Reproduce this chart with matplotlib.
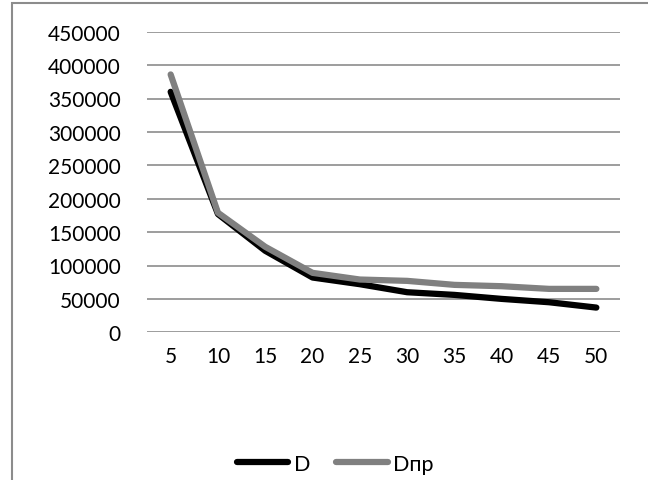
import matplotlib
matplotlib.use("Agg")
import matplotlib.pyplot as plt
from matplotlib.patches import Rectangle

plt.rcParams['font.family'] = ['Lato', 'DejaVu Sans']

categories = ["5", "10", "15", "20", "25", "30", "35", "40", "45", "50"]
D = [360000, 177000, 122000, 82000, 72000, 60000, 56000, 50000, 45000, 37000]
Dpr = [386000, 179000, 128000, 89000, 79000, 77000, 71000, 69000, 65000, 65000]
yticks = [0, 50000, 100000, 150000, 200000, 250000, 300000, 350000, 400000, 450000]

W, H = 648, 481
fig = plt.figure(figsize=(W / 100, H / 100), dpi=100)
ax = fig.add_axes([147 / W, 1 - 333.3 / H, (620 - 147) / W, (333.3 - 32.7) / H])

x = list(range(len(categories)))
ax.plot(x, D, color='black', lw=4.5, solid_capstyle='round', solid_joinstyle='round', label='D', zorder=3)
ax.plot(x, Dpr, color='#808080', lw=4.5, solid_capstyle='round', solid_joinstyle='round', label='Dпр', zorder=4)

ax.set_xlim(-0.5, len(categories) - 0.5)
ax.set_ylim(0, 450000)
ax.set_yticks(yticks)
ax.set_yticklabels([str(v) for v in yticks])
ax.set_xticks(x)
ax.set_xticklabels(categories)
ax.grid(axis='y', color='#8c8c8c', lw=1.2)
ax.set_axisbelow(True)
for s in ax.spines.values():
    s.set_visible(False)
ax.tick_params(axis='both', length=0, labelsize=15, colors='black')
ax.tick_params(axis='y', pad=19)
ax.tick_params(axis='x', pad=10)

leg = fig.legend(loc='center', bbox_to_anchor=(335 / W, 1 - 465 / H), ncol=2, frameon=False,
                 fontsize=15.5, handlelength=2.4, handletextpad=0.25, columnspacing=1.2)

fig.patches.append(Rectangle((11.5 / W, -0.1), 1.0, (H - 3.5) / H + 0.1, transform=fig.transFigure,
                             fill=False, edgecolor='#8c8c8c', lw=1.5))

fig.savefig("out.png", dpi=100)
